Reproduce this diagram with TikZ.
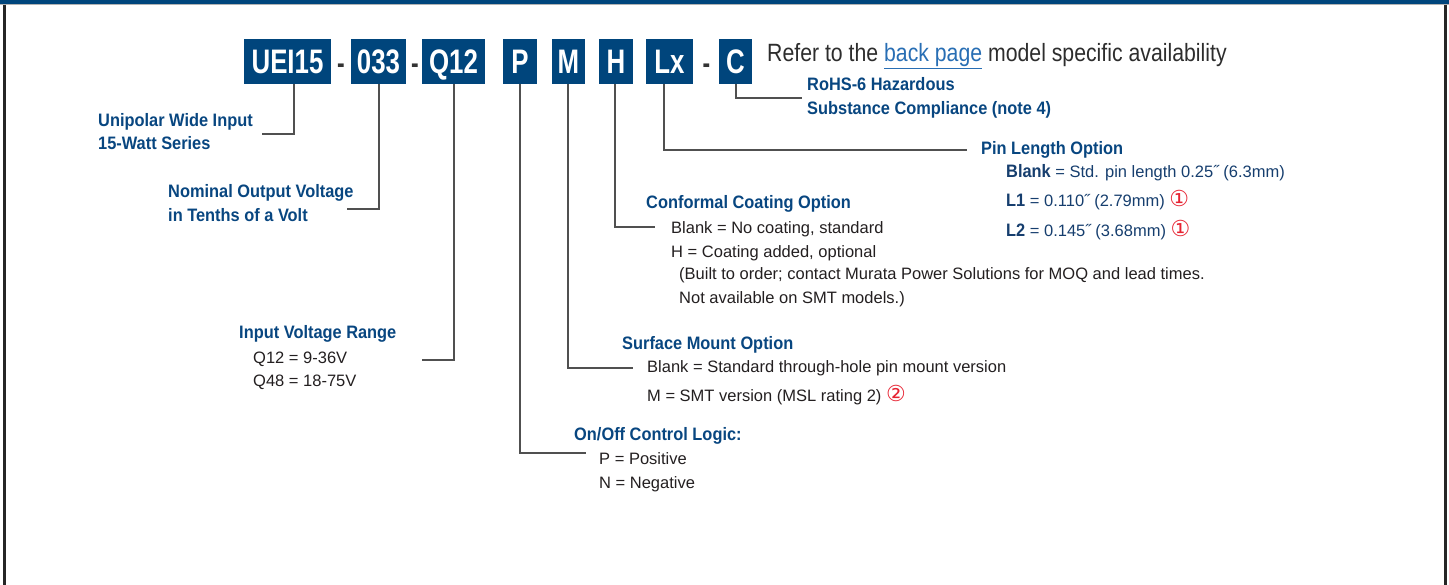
\documentclass[tikz,border=0pt]{standalone}
\usepackage{fontspec}
\setmainfont{Liberation Sans}
\newfontfamily\boxfont[FakeStretch=0.76]{Liberation Sans}
\newfontfamily\titlefont[FakeStretch=0.91]{Liberation Sans}
\newfontfamily\referfont[FakeStretch=0.85]{Liberation Sans}
\newfontfamily\symfont{DejaVu Sans}
\definecolor{mblue}{RGB}{0,69,124}
\definecolor{tblue}{RGB}{8,70,128}
\definecolor{pblue}{RGB}{22,62,110}
\definecolor{lgray}{RGB}{80,80,80}
\definecolor{btext}{RGB}{35,31,32}
\definecolor{rtext}{RGB}{45,45,45}
\definecolor{lblue}{RGB}{40,110,180}
\definecolor{mred}{RGB}{230,35,50}
\newcommand{\circnum}[1]{{\symfont\color{mred}\fontsize{22}{22}\selectfont #1}}
\tikzset{
  code/.style={fill=mblue, text=white, inner sep=0pt, minimum height=45pt,
    text height=24pt, text depth=0pt,
    font=\boxfont\bfseries\fontsize{34}{34}\selectfont},
  dashtxt/.style={anchor=base, inner sep=0pt, text=black!80,
    font=\boxfont\bfseries\fontsize{30}{30}\selectfont},
  title/.style={anchor=base west, inner sep=0pt, text=tblue,
    font=\titlefont\bfseries\fontsize{18}{20}\selectfont},
  body/.style={anchor=base west, inner sep=0pt, text=btext,
    font=\fontsize{16.5}{18}\selectfont},
  pinitem/.style={body, text=pblue},
  conn/.style={draw=lgray, line width=1.5pt},
}
\begin{document}
\begin{tikzpicture}[x=1pt,y=-1pt]
\useasboundingbox (0,0) rectangle (1449,585);
% frame
\fill[mblue] (0,0) rectangle (1449,4.5);
\draw[gray!60, line width=1pt] (0,5) -- (1449,5);
\draw[black!85, line width=2.5pt] (4.5,5) -- (4.5,585);
\draw[black!85, line width=2.5pt] (1445.5,5) -- (1445.5,585);

% code boxes
\node[code, minimum width=87pt] (uei) at (287.5,61.5) {UEI15};
\node[dashtxt] (d1) at (341,74) {-};
\node[code, minimum width=55pt] (v033) at (378.5,61.5) {033};
\node[dashtxt] (d2) at (415,74) {-};
\node[code, minimum width=63pt] (q12) at (453.5,61.5) {Q12};
\node[code, minimum width=34pt] (p) at (520,61.5) {P};
\node[code, minimum width=33pt] (m) at (568.5,61.5) {M};
\node[code, minimum width=34pt] (h) at (616,61.5) {H};
\node[code, minimum width=47pt] (lx) at (669.5,61.5) {Lx};
\node[dashtxt] (d3) at (706.5,74) {-};
\node[code, minimum width=33pt] (c) at (735.5,61.5) {C};

\node[anchor=base west, inner sep=0pt, text=rtext,
  font=\referfont\fontsize{25}{25}\selectfont] (refer) at (767,62)
  {Refer to the \textcolor{lblue}{\underline{back page}} model specific availability};

% connector ends
\coordinate (ueiE) at (262,134);
\coordinate (v033E) at (347,209);
\coordinate (q12E) at (422,360);
\coordinate (pE) at (586,453);
\coordinate (mE) at (633,368);
\coordinate (hE) at (655,227);
\coordinate (lxE) at (967,150);
\coordinate (cE) at (802,98);

\draw[conn] ([xshift=6.5pt]uei.south) |- (ueiE);
\draw[conn] ([xshift=0.5pt]v033.south) |- (v033E);
\draw[conn] ([xshift=0.5pt]q12.south) |- (q12E);
\draw[conn] (p.south) |- (pE);
\draw[conn] ([xshift=-0.5pt]m.south) |- (mE);
\draw[conn] ([xshift=-1pt]h.south) |- (hE);
\draw[conn] ([xshift=-5.5pt]lx.south) |- (lxE);
\draw[conn] ([xshift=0.5pt]c.south) |- (cE);

% labels
\node[title] (t1a) at (98,127) {Unipolar Wide Input};
\node[title] (t1b) at (98,150) {15-Watt Series};

\node[title] (t2a) at (168,198) {Nominal Output Voltage};
\node[title] (t2b) at (168,222) {in Tenths of a Volt};

\node[title] (t3) at (239,339) {Input Voltage Range};
\node[body] (t3a) at (253,363) {Q12 = 9-36V};
\node[body] (t3b) at (253,387) {Q48 = 18-75V};

\node[title] (t4) at (574,440) {On/Off Control Logic:};
\node[body] (t4a) at (599,464) {P = Positive};
\node[body] (t4b) at (599,488) {N = Negative};

\node[title] (t5) at (622,350) {Surface Mount Option};
\node[body] (t5a) at (647,373) {Blank = Standard through-hole pin mount version};
\node[body] (t5b) at (647,402) {M = SMT version (MSL rating 2) \circnum{②}};

\node[title] (t6) at (646,209) {Conformal Coating Option};
\node[body] (t6a) at (671,234) {Blank = No coating, standard};
\node[body] (t6b) at (671,258) {H = Coating added, optional};
\node[body] (t6c) at (679,280) {(Built to order; contact Murata Power Solutions for MOQ and lead times.};
\node[body] (t6d) at (679,304) {Not available on SMT models.)};

\node[title] (t7) at (981,155) {Pin Length Option};
\node[pinitem] (t7a) at (1006,178) {{\titlefont\bfseries\fontsize{18}{20}\selectfont Blank} = Std. pin length 0.25˝ (6.3mm)};
\node[pinitem] (t7b) at (1006,207) {{\titlefont\bfseries\fontsize{18}{20}\selectfont L1} = 0.110˝ (2.79mm) \circnum{①}};
\node[pinitem] (t7c) at (1006,237) {{\titlefont\bfseries\fontsize{18}{20}\selectfont L2} = 0.145˝ (3.68mm) \circnum{①}};

\node[title] (t8a) at (807,91) {RoHS-6 Hazardous};
\node[title] (t8b) at (807,115) {Substance Compliance (note 4)};
\end{tikzpicture}
\end{document}
